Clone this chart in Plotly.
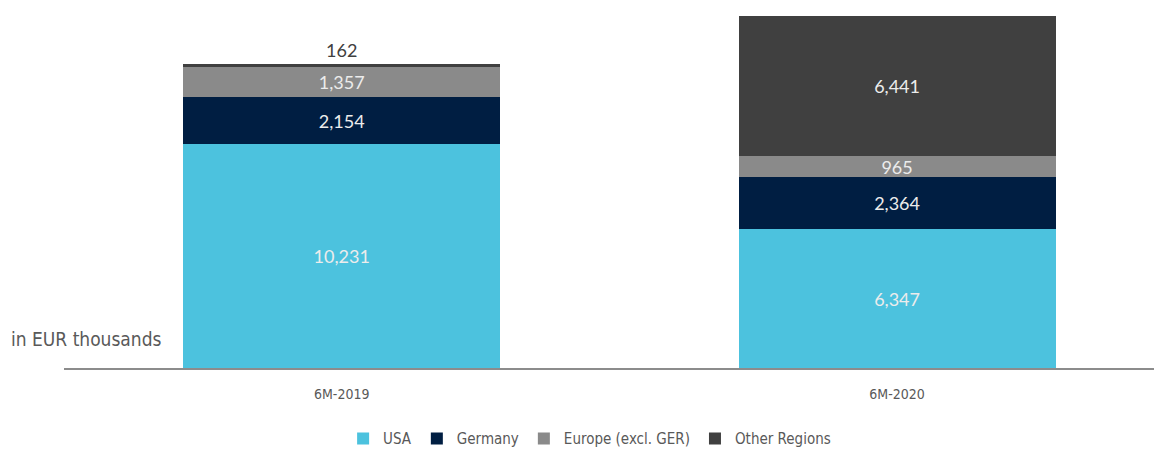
import plotly.graph_objects as go

periods = ["6M-2019", "6M-2020"]
usa = [10231, 6347]
germany = [2154, 2364]
europe = [1357, 965]
other = [162, 6441]

series_names = ["USA", "Germany", "Europe (excl. GER)", "Other Regions"]
series_values = [usa, germany, europe, other]
series_colors = ["#4cc2de", "#001e42", "#8a8a8a", "#404040"]

LABEL_FONT = "Lato, Open Sans, sans-serif"
NARROW_FONT = "Liberation Sans Narrow, DejaVu Sans Condensed, Roboto, sans-serif"

fig = go.Figure()
for name, vals, color in zip(series_names, series_values, series_colors):
    # tiny segments get their label above the bar
    positions = ["outside" if v < 500 else "inside" for v in vals]
    fig.add_trace(
        go.Bar(
            x=periods,
            y=vals,
            name=name,
            marker=dict(color=color, line=dict(width=0)),
            text=[f"{v:,}" for v in vals],
            textposition=positions,
            insidetextanchor="middle",
            insidetextfont=dict(color="#ececec", size=18, family=LABEL_FONT),
            outsidetextfont=dict(color="#404040", size=18, family=LABEL_FONT),
            textangle=0,
            constraintext="none",
            cliponaxis=False,
            width=0.571,
        )
    )

top_total = sum(s[1] for s in series_values)

# page body has an 8px margin, so the figure is 8px smaller than the window
fig.update_layout(
    barmode="stack",
    width=1154,
    height=441,
    paper_bgcolor="white",
    plot_bgcolor="white",
    margin=dict(l=56, r=0, t=2, b=81),
    showlegend=True,
    legend=dict(
        orientation="h",
        xref="container",
        x=0.504,
        xanchor="center",
        yref="container",
        y=0.023,
        yanchor="middle",
        font=dict(family=NARROW_FONT, size=15, color="#595959"),
        itemwidth=30,
        traceorder="normal",
    ),
    xaxis=dict(
        range=[-0.5, 1.477],
        showgrid=False,
        zeroline=False,
        showline=True,
        linecolor="#8c8c8c",
        linewidth=2,
        ticks="",
        tickfont=dict(family=NARROW_FONT, size=14, color="#595959"),
        ticklabelstandoff=12,
    ),
    yaxis=dict(
        range=[0, top_total * 358 / 352.5],
        visible=False,
        showgrid=False,
        zeroline=False,
    ),
    annotations=[
        dict(
            text="in EUR thousands",
            xref="paper",
            yref="paper",
            x=-0.05,
            y=0.081,
            xanchor="left",
            yanchor="middle",
            showarrow=False,
            font=dict(family=NARROW_FONT, size=19, color="#595959"),
        )
    ],
)

fig.write_html("out.html")
